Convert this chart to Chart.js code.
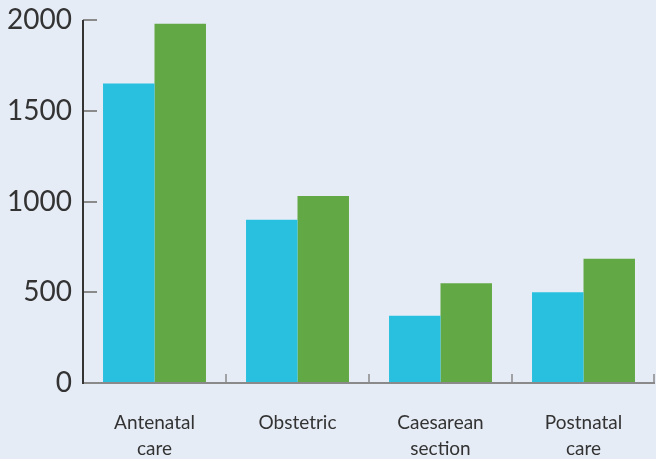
<!DOCTYPE html>
<html>
<head>
<meta charset="utf-8">
<script src="https://cdn.jsdelivr.net/npm/chart.js@4/dist/chart.umd.min.js"></script>
<style>
  html, body { margin: 0; padding: 0; background: #e6ecf6; }
  #wrap { width: 656px; height: 459px; }
</style>
</head>
<body>
<div id="wrap"><canvas id="barChart"></canvas></div>
<script>
// Dados do gráfico
const categories = [['Antenatal', 'care'], 'Obstetric', ['Caesarean', 'section'], ['Postnatal', 'care']];
const seriesA = [1650, 900, 370, 500];
const seriesB = [1980, 1030, 550, 685];
const yTicks = [0, 500, 1000, 1500, 2000];

// Marcas de eixo desenhadas para dentro, como no original
const axisMarks = {
    id: 'axisMarks',
    afterDraw(chart) {
        const c = chart.ctx;
        const x = chart.scales.x, y = chart.scales.y;
        const area = chart.chartArea;
        c.save();
        // eixo x
        c.strokeStyle = '#8a8a8a';
        c.lineWidth = 2;
        c.beginPath();
        c.moveTo(area.left, area.bottom);
        c.lineTo(area.right, area.bottom);
        c.stroke();
        // ticks do eixo y
        yTicks.forEach(v => {
            const py = Math.round(y.getPixelForValue(v));
            c.beginPath();
            c.moveTo(area.left, py);
            c.lineTo(area.left + 14, py);
            c.stroke();
        });
        // ticks entre categorias
        c.lineWidth = 1.5;
        const step = x.getPixelForValue(1) - x.getPixelForValue(0);
        for (let i = 0; i < categories.length; i++) {
            let px = Math.round(x.getPixelForValue(i) + step / 2);
            if (px > area.right - 1) px = area.right - 1;
            c.beginPath();
            c.moveTo(px, area.bottom);
            c.lineTo(px, area.bottom - 9);
            c.stroke();
        }
        // eixo y
        c.strokeStyle = '#333333';
        c.lineWidth = 2;
        c.beginPath();
        c.moveTo(area.left, area.top);
        c.lineTo(area.left, area.bottom + 1);
        c.stroke();
        c.restore();
    }
};

const ctx = document.getElementById('barChart').getContext('2d');
const barChart = new Chart(ctx, {
    type: 'bar',
    data: {
        labels: categories,
        datasets: [{
            data: seriesA,
            backgroundColor: '#29c0df',
            categoryPercentage: 0.72,
            barPercentage: 1
        }, {
            data: seriesB,
            backgroundColor: '#62a844',
            categoryPercentage: 0.72,
            barPercentage: 1
        }]
    },
    options: {
        responsive: true,
        maintainAspectRatio: false,
        animation: false,
        layout: { padding: { top: 20, right: 1, left: 0, bottom: 0 } },
        plugins: {
            legend: { display: false },
            tooltip: { enabled: false }
        },
        scales: {
            y: {
                min: 0,
                max: 2000,
                afterBuildTicks: s => { s.ticks = yTicks.map(v => ({ value: v })); },
                afterFit: s => { s.width = 83; s.paddingTop = 0; s.paddingBottom = 0; },
                border: { display: false },
                grid: { display: false, drawTicks: false },
                ticks: {
                    color: '#333333',
                    padding: 11,
                    callback: v => String(v),
                    font: { family: 'Lato', size: 28 }
                }
            },
            x: {
                afterFit: s => { s.height = 76; s.paddingLeft = 0; s.paddingRight = 0; },
                border: { display: false },
                grid: { display: false, drawTicks: false },
                ticks: {
                    color: '#333333',
                    padding: 27,
                    maxRotation: 0,
                    font: { family: 'Lato', size: 19, lineHeight: 1.35 }
                }
            }
        }
    },
    plugins: [axisMarks]
});
</script>
</body>
</html>
